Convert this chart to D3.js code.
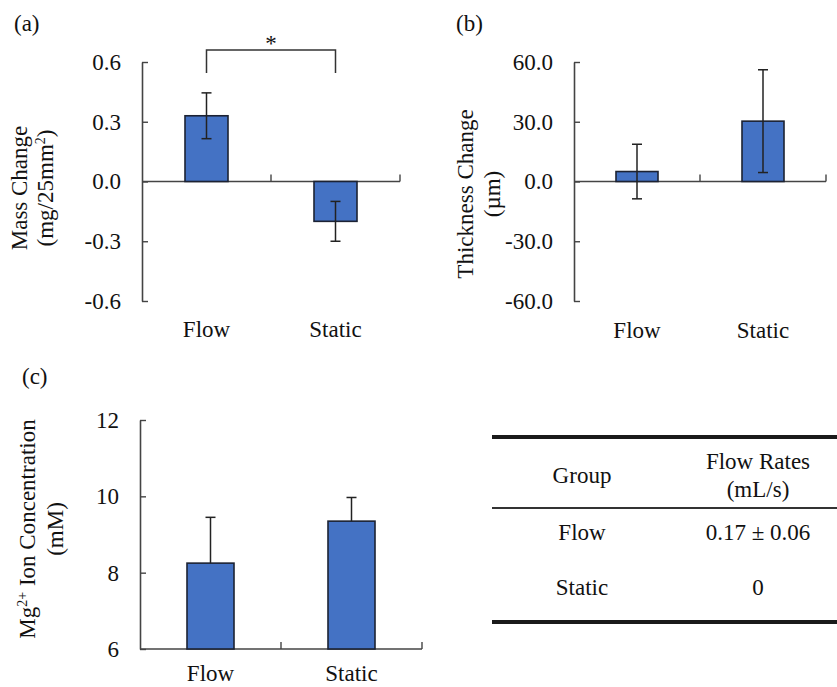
<!DOCTYPE html>
<html>
<head>
<meta charset="utf-8">
<script src="https://cdn.jsdelivr.net/npm/d3@7"></script>
<style>
  body { margin: 0; background: #fff; }
  text { font-family: "Liberation Serif", "Times New Roman", serif; fill: #111; }
</style>
</head>
<body>
<script>
// data
var categories = ["Flow", "Static"]
var massMean = [0.33, -0.20]
var massErr = [0.115, 0.10]
var thickMean = [5.0, 30.3]
var thickErr = [13.7, 25.8]
var ionMean = [8.25, 9.35]
var ionErr = [1.2, 0.62]
var massTicks = [-0.6, -0.3, 0, 0.3, 0.6]
var thickTicks = [-60, -30, 0, 30, 60]
var ionTicks = [6, 8, 10, 12]
var tableHead = ["Group", "Flow Rates", "(mL/s)"]
var tableGroups = ["Flow", "Static"]
var tableRates = ["0.17 \u00b1 0.06", "0"]

var W = 837, H = 687
var fontSize = 23
var barFill = "#4472c4"
var barStroke = "#1c2233"
var axisColor = "#444"

var svg = d3.select("body").append("svg")
    .attr("width", W)
    .attr("height", H)

function panel(opt) {
    var g = svg.append("g")

    var y = d3.scaleLinear().domain(opt.domain).range([opt.bottom, opt.top])
    var x = d3.scaleBand().domain(categories).range([opt.left, opt.right])
    var bw = x.bandwidth()
    var base = opt.base

    // y axis, ticks pointing inward
    var yAxis = g.append("g")
        .attr("transform", "translate(" + opt.left + ",0)")
        .call(d3.axisLeft(y).tickValues(opt.ticks).tickFormat(opt.fmt)
            .tickSizeInner(-6).tickSizeOuter(0).tickPadding(21))
    yAxis.select(".domain").attr("stroke", axisColor).attr("stroke-width", 1.6)
    yAxis.selectAll(".tick line").attr("stroke", axisColor).attr("stroke-width", 1.4)
    yAxis.selectAll(".tick text")
        .attr("font-size", fontSize)
        .attr("font-family", "Liberation Serif, Times New Roman, serif")
        .attr("fill", "#111")

    // category axis through the base value
    g.append("line")
        .attr("x1", opt.left).attr("x2", opt.right)
        .attr("y1", y(base)).attr("y2", y(base))
        .attr("stroke", axisColor).attr("stroke-width", 1.6)
    g.selectAll(".ctick").data(categories).enter().append("line")
        .attr("x1", function(d) { return x(d) + bw }).attr("x2", function(d) { return x(d) + bw })
        .attr("y1", y(base)).attr("y2", y(base) - 7)
        .attr("stroke", axisColor).attr("stroke-width", 1.4)

    // category labels
    g.selectAll(".clab").data(categories).enter().append("text")
        .attr("x", function(d) { return x(d) + bw / 2 })
        .attr("y", opt.labelY)
        .attr("text-anchor", "middle")
        .attr("font-size", fontSize)
        .text(function(d) { return d })

    // bars
    g.selectAll(".bar").data(categories).enter().append("rect")
        .attr("x", function(d) { return x(d) + bw / 3 })
        .attr("width", bw / 3)
        .attr("y", function(d, i) { return y(Math.max(opt.mean[i], base)) })
        .attr("height", function(d, i) { return Math.abs(y(opt.mean[i]) - y(base)) })
        .attr("fill", barFill)
        .attr("stroke", barStroke)
        .attr("stroke-width", 1.6)

    // error bars
    categories.forEach(function(c, i) {
        var cx = x(c) + bw / 2
        var hi = opt.mean[i] + opt.err[i]
        var lo = opt.upOnly ? opt.mean[i] : opt.mean[i] - opt.err[i]
        g.append("line")
            .attr("x1", cx).attr("x2", cx)
            .attr("y1", y(hi)).attr("y2", y(lo))
            .attr("stroke", "#222").attr("stroke-width", 1.5)
        g.append("line")
            .attr("x1", cx - 5).attr("x2", cx + 5)
            .attr("y1", y(hi)).attr("y2", y(hi))
            .attr("stroke", "#222").attr("stroke-width", 1.5)
        if (!opt.upOnly) {
            g.append("line")
                .attr("x1", cx - 5).attr("x2", cx + 5)
                .attr("y1", y(lo)).attr("y2", y(lo))
                .attr("stroke", "#222").attr("stroke-width", 1.5)
        }
    })

    // y title, two lines rotated
    var t = g.append("text")
        .attr("transform", "translate(" + opt.titleX + "," + opt.titleY + ") rotate(-90)")
        .attr("text-anchor", "middle")
        .attr("font-size", fontSize)
    opt.title(t)

    // panel letter
    g.append("text")
        .attr("x", opt.letterX).attr("y", opt.letterY)
        .attr("font-size", fontSize)
        .text(opt.letter)

    return { g: g, x: x, y: y }
}

var fmt1 = function(d) { return d.toFixed(1) }

// (a) mass change
var pa = panel({
    left: 142, right: 400, top: 62, bottom: 301,
    domain: [-0.6, 0.6], ticks: massTicks, fmt: fmt1, base: 0,
    mean: massMean, err: massErr, labelY: 337,
    titleX: 27, titleY: 188, letter: "(a)", letterX: 14, letterY: 31,
    title: function(t) {
        t.append("tspan").attr("x", 0).attr("y", 0).text("Mass Change")
        t.append("tspan").attr("x", 0).attr("y", 26).text("(mg/25mm")
        t.append("tspan").attr("dy", -8).attr("font-size", 14).text("2")
        t.append("tspan").attr("dy", 8).text(")")
    }
})

// significance bracket over (a)
var bx1 = pa.x("Flow") + pa.x.bandwidth() / 2
var bx2 = pa.x("Static") + pa.x.bandwidth() / 2
pa.g.append("path")
    .attr("d", "M" + bx1 + ",73 V50 H" + bx2 + " V73")
    .attr("fill", "none").attr("stroke", "#333").attr("stroke-width", 1.5)
pa.g.append("text")
    .attr("x", (bx1 + bx2) / 2).attr("y", 51)
    .attr("text-anchor", "middle")
    .attr("font-size", fontSize)
    .text("*")

// (b) thickness change
panel({
    left: 574, right: 826, top: 62, bottom: 301,
    domain: [-60, 60], ticks: thickTicks, fmt: fmt1, base: 0,
    mean: thickMean, err: thickErr, labelY: 338,
    titleX: 473, titleY: 194, letter: "(b)", letterX: 456, letterY: 31,
    title: function(t) {
        t.append("tspan").attr("x", 0).attr("y", 0).text("Thickness Change")
        t.append("tspan").attr("x", 0).attr("y", 27).text("(\u00b5m)")
    }
})

// (c) Mg ion concentration
panel({
    left: 140, right: 422, top: 420, bottom: 649,
    domain: [6, 12], ticks: ionTicks, fmt: function(d) { return d }, base: 6,
    mean: ionMean, err: ionErr, labelY: 681, upOnly: true,
    titleX: 35, titleY: 529, letter: "(c)", letterX: 22, letterY: 384,
    title: function(t) {
        t.append("tspan").attr("x", 0).attr("y", 0).text("Mg")
        t.append("tspan").attr("dy", -8).attr("font-size", 14).text("2+")
        t.append("tspan").attr("dy", 8).text(" Ion Concentration")
        t.append("tspan").attr("x", 0).attr("y", 28).text("(mM)")
    }
})

// table of flow rates
var tab = svg.append("g")
var col1 = 582, col2 = 758
var tx1 = 492, tx2 = 837
tab.append("line").attr("x1", tx1).attr("x2", tx2).attr("y1", 437).attr("y2", 437)
    .attr("stroke", "#1a1a1a").attr("stroke-width", 4)
tab.append("line").attr("x1", tx1).attr("x2", tx2).attr("y1", 508).attr("y2", 508)
    .attr("stroke", "#333").attr("stroke-width", 2)
tab.append("line").attr("x1", tx1).attr("x2", tx2).attr("y1", 622).attr("y2", 622)
    .attr("stroke", "#1a1a1a").attr("stroke-width", 4)

tab.append("text").attr("x", col1).attr("y", 483).attr("text-anchor", "middle")
    .attr("font-size", fontSize).text(tableHead[0])
tab.append("text").attr("x", col2).attr("y", 469).attr("text-anchor", "middle")
    .attr("font-size", fontSize).text(tableHead[1])
tab.append("text").attr("x", col2).attr("y", 497).attr("text-anchor", "middle")
    .attr("font-size", fontSize).text(tableHead[2])

var rowY = d3.scalePoint().domain(tableGroups).range([540, 595])
tab.selectAll(".tg").data(tableGroups).enter().append("text")
    .attr("x", col1).attr("y", function(d) { return rowY(d) })
    .attr("text-anchor", "middle").attr("font-size", fontSize)
    .text(function(d) { return d })
tab.selectAll(".tr").data(tableRates).enter().append("text")
    .attr("x", col2).attr("y", function(d, i) { return rowY(tableGroups[i]) })
    .attr("text-anchor", "middle").attr("font-size", fontSize)
    .text(function(d) { return d })
</script>
</body>
</html>
